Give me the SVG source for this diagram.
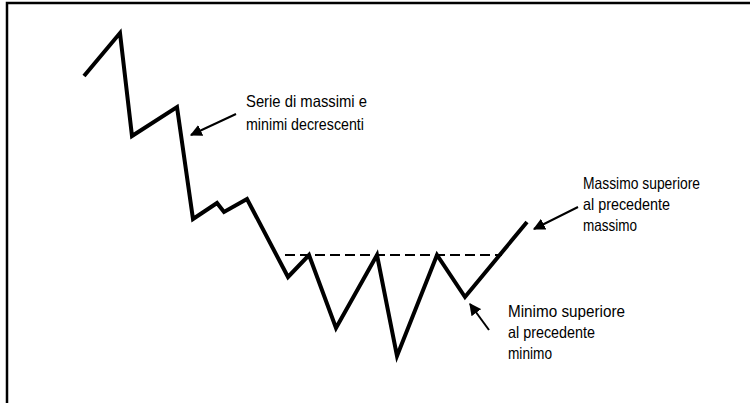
<svg xmlns="http://www.w3.org/2000/svg" width="750" height="403" viewBox="0 0 750 403">
<style>
.lbl{font-family:"Liberation Sans",Arial,Helvetica,sans-serif;font-size:16.5px;fill:#000}
.arrow{stroke:#000;stroke-width:2;fill:none}
</style>
<defs>
<marker id="ah" viewBox="0 0 10 10" refX="9" refY="5" markerWidth="6" markerHeight="6" orient="auto" markerUnits="strokeWidth">
<path d="M0,0 L10,5 L0,10 z" fill="#000"/>
</marker>
</defs>
<rect width="750" height="403" fill="#fff"/>
<path d="M7,403 V3 H750" fill="none" stroke="#000" stroke-width="2.5"/>
<g id="chart">
<line x1="285" y1="255" x2="502" y2="255" stroke="#000" stroke-width="2" stroke-dasharray="10,5"/>
<polyline points="84,76 120,33 132,136 177,107 193,219 217,203 224,212 247,199 288,277 309,255 336,328 377,255 397,356 437,255 465,297 527,222" fill="none" stroke="#000" stroke-width="4" stroke-linejoin="miter"/>
</g>
<g id="connectors">
<line class="arrow" x1="236" y1="114" x2="191" y2="135" marker-end="url(#ah)"/>
<line class="arrow" x1="578" y1="207" x2="534" y2="229" marker-end="url(#ah)"/>
<line class="arrow" x1="489" y1="330" x2="470" y2="304" marker-end="url(#ah)"/>
</g>
<g id="label-serie">
<text class="lbl" x="246" y="107" textLength="121" lengthAdjust="spacingAndGlyphs">Serie di massimi e</text>
<text class="lbl" x="246" y="130" textLength="118" lengthAdjust="spacingAndGlyphs">minimi decrescenti</text>
</g>
<g id="label-massimo">
<text class="lbl" x="583" y="189" textLength="117" lengthAdjust="spacingAndGlyphs">Massimo superiore</text>
<text class="lbl" x="583" y="210" textLength="87" lengthAdjust="spacingAndGlyphs">al precedente</text>
<text class="lbl" x="583" y="231" textLength="54" lengthAdjust="spacingAndGlyphs">massimo</text>
</g>
<g id="label-minimo">
<text class="lbl" x="508" y="317" textLength="117" lengthAdjust="spacingAndGlyphs">Minimo superiore</text>
<text class="lbl" x="508" y="338" textLength="87" lengthAdjust="spacingAndGlyphs">al precedente</text>
<text class="lbl" x="508" y="359" textLength="44" lengthAdjust="spacingAndGlyphs">minimo</text>
</g>
</svg>
